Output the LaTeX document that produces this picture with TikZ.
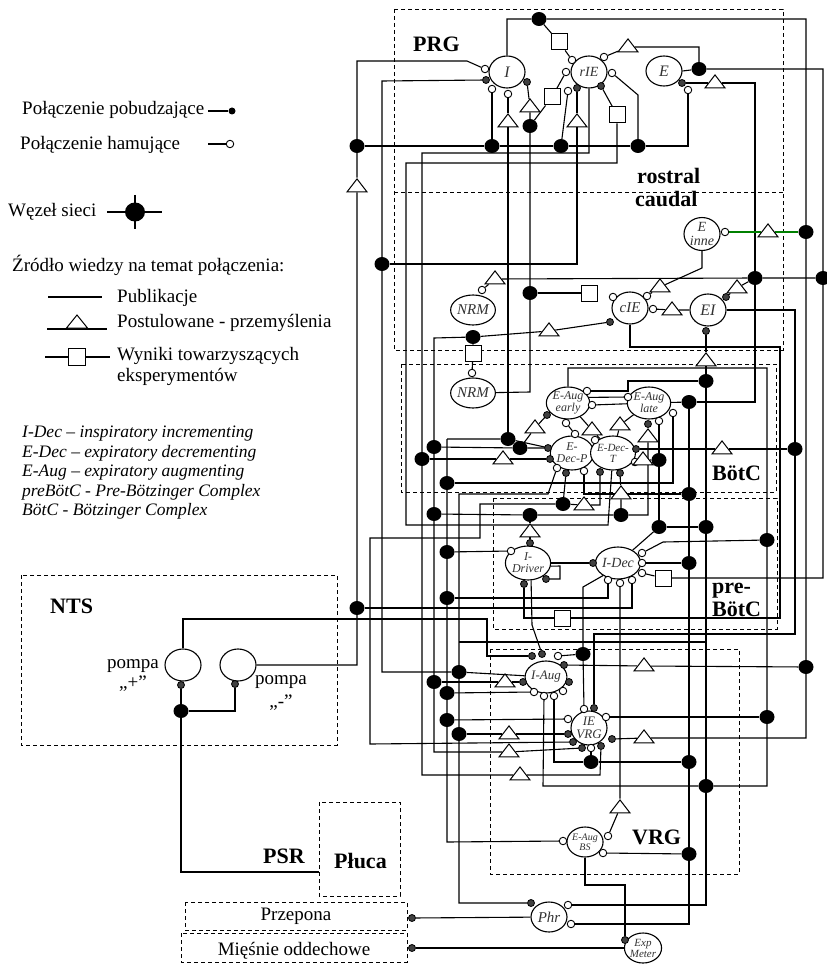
\documentclass[tikz,border=0pt]{standalone}
\usepackage{fontspec}
\setmainfont{Liberation Serif}
\usetikzlibrary{shapes.geometric}
\pgfdeclarelayer{wires}
\pgfsetlayers{wires,main}
\begin{document}
\begin{tikzpicture}[x=1pt,y=-1pt,
 wire/.style={line width=1.1pt},
 nrn/.style n args={3}{ellipse, draw, line width=1.1pt, fill=white, inner sep=0, align=center, text=black!80, minimum width=#1, minimum height=#2, font=\itshape\fontsize{#3}{#3}\selectfont},
 exc/.style={circle, draw, fill=black!75, line width=0.8pt, minimum size=7pt, inner sep=0},
 inh/.style={circle, draw, fill=white, line width=0.9pt, minimum size=7.5pt, inner sep=0},
 bn/.style={ellipse, fill=black, minimum width=15pt, minimum height=14pt, inner sep=0},
 tri/.style={isosceles triangle, isosceles triangle stretches, shape border rotate=90, draw, fill=white, line width=1pt, inner sep=0, minimum width=20pt, minimum height=13pt},
 sq/.style={rectangle, draw, fill=white, line width=1pt, minimum size=16pt, inner sep=0},
 box/.style={draw, dash pattern=on 4pt off 3pt, line width=0.9pt},
 lbl/.style={font=\bfseries\fontsize{22}{22}\selectfont, inner sep=0},
 leg/.style={font=\fontsize{19}{21}\selectfont, inner sep=0},
 abbr/.style={font=\itshape\fontsize{17.5}{19}\selectfont, inner sep=0}
]
\useasboundingbox (0,0) rectangle (826,965);

% ---------- neurons ----------
\node[nrn={36pt}{32pt}{16}] (I) at (507,72) {I};
\node[nrn={36pt}{32pt}{14}] (rIE) at (589,72) {rIE};
\node[nrn={36pt}{30pt}{16}] (E) at (664,71) {E};
\node[nrn={36pt}{30pt}{14}] (Ei) at (702,234) {E\\inne};
\node[nrn={34pt}{30pt}{15}] (N1) at (473,310) {NRM};
\node[nrn={36pt}{32pt}{15}] (cIE) at (630,308) {cIE};
\node[nrn={36pt}{32pt}{16}] (EI) at (708,310) {EI};
\node[nrn={34pt}{30pt}{15}] (N2) at (473,393) {NRM};
\node[nrn={34pt}{32pt}{12}] (EAe) at (568,403) {E-Aug\\early};
\node[nrn={34pt}{32pt}{12}] (EAl) at (649,403) {E-Aug\\late};
\node[nrn={36pt}{34pt}{12}] (EDP) at (572,453) {E-\\Dec-P};
\node[nrn={36pt}{34pt}{11}] (EDT) at (613,453) {E-Dec-\\T};
\node[nrn={38pt}{34pt}{12}] (IDr) at (528,563) {I-\\Driver};
\node[nrn={36pt}{32pt}{14}] (IDec) at (618,563) {I-Dec};
\node[nrn={36pt}{32pt}{13}] (IAug) at (546,677) {I-Aug};
\node[nrn={36pt}{34pt}{13}] (IEV) at (589,728) {IE\\VRG};
\node[nrn={34pt}{30pt}{10}] (EAB) at (585,842) {E-Aug\\BS};
\node[nrn={36pt}{30pt}{15}] (Phr) at (549,917) {Phr};
\node[nrn={34pt}{30pt}{11}] (Exp) at (643,948) {Exp\\Meter};
\node[nrn={36pt}{32pt}{12}] (pp) at (183,665) {};
\node[nrn={36pt}{32pt}{12}] (pm) at (238,665) {};

% ---------- synapses ----------
\foreach \n/\x/\y in {sI1/485/69, sI3/492/89, sI4/508/94, sR1/572/60, sR2/604/57, sR3/566/72, sR4/568/91, sR7/612/73, sE2/688/90, sEi1/725/232, sN1/482/290, sC1/613/297, sC2/647/296, sC3/653/309, sN2/472/373, sAe1/587/391, sAe2/592/405, sAe4/566/423, sAl1/628/397, sAl2/673/413, sAl4/659/421, sDP1/575/434, sDP4/557/468, sDP6/584/471, sDP7/595/440, sDT2/635/462, sD2/511/551, sID2/642/553, sID3/642/563, sID4/642/573, sID5/608/580, sID6/620/583, sID7/632/580, sA3/558/656, sA7/534/692, sA8/544/696, sA9/554/696, sA10/563/691, sV1/584/709, sV3/606/717, sV4/568/719, sV8/591/748, sB1/563/841, sB2/608/836, sB3/603/853, sP2/568/905, sP3/571/924}
  \node[inh] (\n) at (\x,\y) {};
\foreach \n/\x/\y in {sI2/486/80, sI5/527/82, sR5/577/88, sR6/601/86, sE1/682/83, sC4/610/322, sEI1/726/297, sEI2/706/331, sAe3/547/415, sAl3/648/424, sDP2/548/448, sDP3/550/459, sDP5/566/473, sDT1/636/449, sDT3/600/472, sDT4/620/473, sD1/530/543, sD3/524/584, sD4/546/579, sID1/593/563, sA1/532/656, sA2/542/654, sA4/564/665, sA5/569/682, sA6/523/682, sV2/594/708, sV5/568/734, sV6/573/742, sV7/582/748, sV9/601/746, sV10/612/739, sP1/531/903, sX1/625/940, sPp/181/685, sPm/235/684, dPrz/412/918, dMie/412/948}
  \node[exc] (\n) at (\x,\y) {};

% ---------- network nodes ----------
\foreach \n/\x/\y in {b1/539/19, b2/699/69, b3/357/146, b4/492/146, b5/561/146, b6/638/146, b7/530/126, b8/382/264, b9/806/232, b10/755/278, b11/823/278, b12/530/293, b13/473/337, b14/706/381, b15/689/402, b16/508/439, b17/434/447, b18/520/448, b19/422/459, b20/659/460, b21/795/449, b22/447/483, b23/689/494, b24/563/504, b25/434/514, b26/530/515, b27/621/515, b28/659/527, b29/706/527, b30/767/540, b31/689/563, b32/447/552, b33/447/598, b34/357/608, b35/583/654, b36/806/667, b37/459/672, b38/434/682, b39/447/693, b40/447/720, b41/459/734, b42/767/717, b43/591/762, b44/689/762, b45/706/786, b46/689/854, b47/181/711}
  \node[bn] (\n) at (\x,\y) {};

% ---------- postulated (triangles) and experimental (squares) ----------
\foreach \n/\x/\y in {t1/628/47, t2/715/83, t3/508/122, t4/530/107, t5/577/122, t6/357/187, t7/768/232, t8/495/279, t9/737/288, t10/660/287, t11/672/310, t12/549/331, t13/706/361, t14/535/428, t15/592/430, t16/620/425, t17/648/437, t18/503/459, t19/722/449, t20/643/460, t21/621/494, t22/584/505, t23/530/532, t24/644/666, t25/505/682, t26/509/734, t27/644/738, t28/509/752, t29/520/775, t30/620/808}
  \node[tri] (\n) at (\x,\y) {};
\foreach \n/\x/\y in {q1/559/42, q2/552/97, q3/617/115, q4/589/293, q5/473/353, q6/663/578, q7/562/618}
  \node[sq] (\n) at (\x,\y) {};

% ---------- labels ----------
\node[lbl, anchor=base west] at (413,52) {PRG};
\node[lbl, anchor=base west] at (637,184) {rostral};
\node[lbl, anchor=base west] at (635,207) {caudal};
\node[lbl, anchor=base west] at (712,480) {BötC};
\node[lbl, anchor=base west] at (712,593) {pre-};
\node[lbl, anchor=base west] at (712,616) {BötC};
\node[lbl, anchor=base west] at (632,844) {VRG};
\node[lbl, anchor=base west] at (50,613) {NTS};
\node[lbl, anchor=base west] at (263,863) {PSR};
\node[lbl, anchor=base west] at (334,868) {Płuca};
\node[leg, anchor=base] (tpp) at (133,668) {pompa};
\node[leg, anchor=base] (tppq) at (133,688) {„+”};
\node[leg, anchor=base] (tpm) at (281,684) {pompa};
\node[leg, anchor=base] (tpmq) at (281,707) {„-”};
\node[leg, anchor=base] (tprz) at (296,920) {Przepona};
\node[leg, anchor=base] (tmie) at (294,955) {Mięśnie oddechowe};

% ---------- legend ----------
\node[leg, anchor=base west] (l1) at (22,115) {Połączenie pobudzające};
\node[leg, anchor=base west] (l2) at (20,150) {Połączenie hamujące};
\node[leg, anchor=base west] (l3) at (8,217) {Węzeł sieci};
\node[leg, anchor=base west] (l4) at (12,272) {Źródło wiedzy na temat połączenia:};
\node[leg, anchor=base west] (l5) at (117,302) {Publikacje};
\node[leg, anchor=base west] (l6) at (117,327) {Postulowane - przemyślenia};
\node[leg, anchor=base west] (l7) at (117,360) {Wyniki towarzyszących};
\node[leg, anchor=base west] (l8) at (117,381) {eksperymentów};
\node[circle, fill=black, minimum size=7pt, inner sep=0] (lgE) at (232,111) {};
\node[inh] (lgI) at (230,144) {};
\node[ellipse, fill=black, minimum width=20pt, minimum height=19pt, inner sep=0] (lgN) at (135,212) {};
\node[tri, minimum width=21pt] (lgT) at (77,323) {};
\node[sq, minimum size=17pt] (lgQ) at (77,357) {};
\coordinate (lgE0) at (208,111);
\coordinate (lgI0) at (208,144);
\coordinate (lgNa) at (107,212); \coordinate (lgNb) at (162,212);
\coordinate (lgNc) at (135,195); \coordinate (lgNd) at (135,229);
\coordinate (lgPa) at (48,297); \coordinate (lgPb) at (102,297);
\coordinate (lgTa) at (47,329); \coordinate (lgTb) at (107,329);
\coordinate (lgQa) at (45,357); \coordinate (lgQb) at (110,357);

\node[abbr, anchor=base west] at (22,437) {I-Dec – inspiratory incrementing};
\node[abbr, anchor=base west] at (22,457) {E-Dec – expiratory decrementing};
\node[abbr, anchor=base west] at (22,476) {E-Aug – expiratory augmenting};
\node[abbr, anchor=base west] at (22,496) {preBötC - Pre-Bötzinger Complex};
\node[abbr, anchor=base west] at (22,515) {BötC - Bötzinger Complex};

% ---------- wires (background layer) ----------
\begin{pgfonlayer}{wires}
\fill[white] (0,0) rectangle (826,965);
% region boxes
\draw[box] (394,9) rectangle (783,350);
\draw[box] (394,192) -- (783,192);
\draw[box] (401,364) rectangle (776,492);
\draw[box] (493,498) rectangle (777,629);
\draw[box] (490,649) rectangle (739,874);
\draw[box] (21,575) rectangle (337,745);
\draw[box] (319,802) rectangle (400,896);
\draw[box] (185,902) rectangle (407,930);
\draw[box] (181,933) rectangle (407,962);
% legend lines
\draw[wire] (lgE0) -- (lgE);
\draw[wire] (lgI0) -- (lgI);
\draw[wire] (lgNa) -- (lgNb); \draw[wire] (lgNc) -- (lgNd);
\draw[wire] (lgPa) -- (lgPb);
\draw[wire] (lgTa) -- (lgTb);
\draw[wire] (lgQa) -- (lgQb);

\draw[wire] (sI1) -- (467,61) -- (357,61) -- (b3) -- (t6) -- (b34) -- (357,665) -- (pm.east);
\draw[wire] (sI2) -- (382,81) -- (b8) -- (382,672) -- (b37) -- (IAug);
\draw[wire] (sI3) -- (b4);
\draw[wire] (b3) -- (b4) -- (b5) -- (b6) -- (688,146) -- (sE2);
\draw[wire] (sI4) -- (t3) -- (b16);
\draw[wire] (sI5) -- (t4) -- (b7) -- (b12) -- (530,392) -- (N2);
\draw[wire] (b7) -- (q2) -- (sR3);
\draw[wire] (I.north) -- (507,19) -- (b1) -- (806,19) -- (b9) -- (b36) -- (806,738) -- (t27) -- (sV10);
\draw[wire] (b1) -- (q1) -- (sR1);
\draw[wire] (sR2) -- (t1) -- (699,47) -- (b2);
\draw[wire] (E.east) -- (b2) -- (823,69) -- (b11) -- (823,578) -- (q6) -- (sID4);
\draw[wire] (sE1) -- (t2) -- (755,83) -- (b10) -- (755,402) -- (b15);
\draw[wire] (b6) -- (638,95) -- (sR7);
\draw[wire] (b5) -- (sR4);
\draw[wire] (sR5) -- (t5) -- (577,264) -- (b8);
\draw[wire] (rIE.south) -- (589,153) -- (422,153) -- (b19) -- (422,775) -- (t29) -- (600,775) -- (sV9);
\draw[wire] (sR6) -- (q3) -- (617,163) -- (406,163) -- (406,525) -- (608,525) -- (EDT);
\draw[wire, green!50!black] (b9) -- (t7) -- (sEi1);
\draw[wire] (Ei.south) -- (702,268) -- (t10) -- (sC2);
\draw[wire] (b11) -- (b10) -- (t8) -- (sN1);
\draw[wire] (b10) -- (t9) -- (sEI1);
\draw[wire] (b12) -- (q4);
\draw[wire] (sC3) -- (t11) -- (EI);
\draw[wire] (EI.east) -- (795,310) -- (b21) -- (795,634) -- (594,634) -- (sV2);
\draw[wire] (sEI2) -- (t13) -- (b14) -- (b29) -- (b45) -- (706,905) -- (sP2);
\draw[wire] (sC4) -- (t12) -- (b13) -- (434,338) -- (b17) -- (b25) -- (b38) -- (434,752) -- (t28) -- (sV7);
\draw[wire] (b13) -- (q5) -- (sN2);
\draw[wire] (cIE.south) -- (630,347) -- (780,347) -- (780,618) -- (q7) -- (524,618) -- (sD3);
\draw[wire] (sAe1) -- (628,391) -- (628,381) -- (b14);
\draw[wire] (EAe.north) -- (568,368) -- (767,368) -- (b30) -- (b42) -- (767,786) -- (b45) -- (543,786) -- (sA8);
\draw[wire] (EAe.15) -- (sAl1);
\draw[wire] (sAe2) -- (EAl);
\draw[wire] (EAl) -- (b15);
\draw[wire] (sAl2) -- (673,483) -- (b22);
\draw[wire] (447,439) -- (b22) -- (b32) -- (b33) -- (b39) -- (b40) -- (447,842) -- (sB1);
\draw[wire] (447,439) -- (b16) -- (EDP);
\draw[wire] (sAl3) -- (t17) -- (648,515) -- (b27) -- (b26) -- (b25);
\draw[wire] (sAl4) -- (b20) -- (b28) -- (b29);
\draw[wire] (b28) -- (IDec);
\draw[wire] (EAl) -- (t16) -- (EDT);
\draw[wire] (EAe) -- (t15) -- (EDT);
\draw[wire] (sAe3) -- (t14) -- (b18);
\draw[wire] (b17) -- (b18) -- (sDP2);
\draw[wire] (sAe4) -- (sDP1);
\draw[wire] (b19) -- (t18) -- (sDP3);
\draw[wire] (sDP4) -- (548,494) -- (459,494) -- (b37) -- (b41) -- (459,903) -- (sP1);
\draw[wire] (459,642) -- (706,642);
\draw[wire] (sDP5) -- (b24) -- (t22) -- (600,505) -- (sDT3);
\draw[wire] (b24) -- (480,504) -- (480,538) -- (370,538) -- (370,744) -- (sV6);
\draw[wire] (sDP6) -- (584,494) -- (b23);
\draw[wire] (b15) -- (b23) -- (b31) -- (b44) -- (b46) -- (689,924) -- (sP3);
\draw[wire] (sDT1) -- (t19) -- (b21);
\draw[wire] (sDT2) -- (t20) -- (b20);
\draw[wire] (sDT4) -- (t21) -- (b27);
\draw[wire] (b26) -- (t23) -- (sD1);
\draw[wire] (b32) -- (sD2);
\draw[wire] (IDr) -- (sID1);
\draw[wire] (IDr.-8) -- (560,566) -- (560,579) -- (sD4);
\draw[wire] (IDr.-80) -- (532,625) -- (sA2);
\draw[wire] (IDec.220) -- (583,587) -- (b35) -- (sV1);
\draw[wire] (b35) -- (sA3);
\draw[wire] (sID5) -- (608,598) -- (b33);
\draw[wire] (b34) -- (632,608) -- (sID7);
\draw[wire] (sID6) -- (t30) -- (sB2);
\draw[wire] (b31) -- (sID3);
\draw[wire] (b30) -- (663,542) -- (sID2);
\draw[wire] (sA4) -- (t24) -- (b36);
\draw[wire] (sA6) -- (t25) -- (b38);
\draw[wire] (b39) -- (sA7);
\draw[wire] (b40) -- (sV4);
\draw[wire] (b41) -- (t26) -- (sV5);
\draw[wire] (sV3) -- (b42);
\draw[wire] (sA9) -- (554,762) -- (b43) -- (b44);
\draw[wire] (sV8) -- (b43);
\draw[wire] (sB3) -- (b46);
\draw[wire] (EAB.south) -- (585,885) -- (625,885) -- (sX1);
\draw[wire] (Phr) -- (dPrz);
\draw[wire] (Exp) -- (dMie);
\draw[wire] (sPp) -- (b47) -- (181,872) -- (319,872);
\draw[wire] (sPm) -- (235,711) -- (b47);
\draw[wire] (pp.north) -- (183,619) -- (487,619) -- (487,656) -- (sA1);
\end{pgfonlayer}
\end{tikzpicture}
\end{document}
